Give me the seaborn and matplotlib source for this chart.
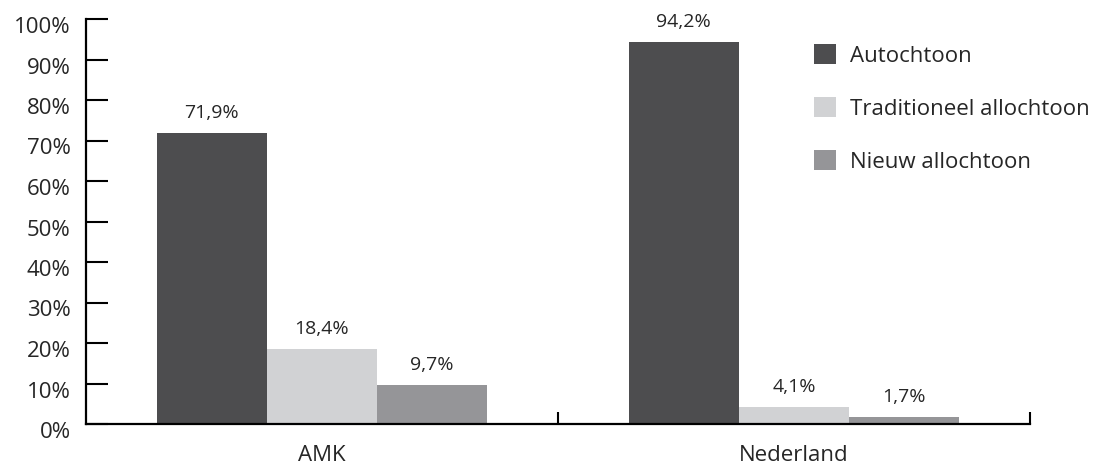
import matplotlib
matplotlib.use("Agg")
import matplotlib.pyplot as plt
import matplotlib.transforms as mtransforms
import pandas as pd
import seaborn as sns

groups = ["AMK", "Nederland"]
series = ["Autochtoon", "Traditioneel allochtoon", "Nieuw allochtoon"]
amk = [71.9, 18.4, 9.7]
nederland = [94.2, 4.1, 1.7]
colors = ["#4d4d4f", "#d1d2d4", "#959598"]
yticks = [0, 10, 20, 30, 40, 50, 60, 70, 80, 90, 100]

df = pd.DataFrame({
    "groep": [g for g in groups for _ in series],
    "herkomst": series * len(groups),
    "pct": amk + nederland,
})

sns.set_theme(style="white")
plt.rcParams["font.family"] = ["Open Sans", "DejaVu Sans"]

fig = plt.figure(figsize=(11.12, 4.68), dpi=100)
ax = fig.add_axes([86 / 1112, 44 / 468, (1030 - 86) / 1112, (424 - 19) / 468])

sns.barplot(data=df, x="groep", y="pct", hue="herkomst", hue_order=series,
            palette=colors, width=0.7, saturation=1, linewidth=0, ax=ax, legend=True)

# waardelabels met komma als decimaalteken
for cont in ax.containers:
    labels = [f"{v:.1f}%".replace(".", ",") for v in cont.datavalues]
    ax.bar_label(cont, labels=labels, padding=8, fontsize=14)

ax.set_xlim(-0.5, 1.5)
ax.set_ylim(0, 100)
ax.set_yticks(yticks)
ax.set_yticklabels([f"{t}%" for t in yticks], fontsize=16)
ax.set_xlabel("")
ax.set_ylabel("")
ax.tick_params(axis="x", labelsize=16, length=0, pad=15)
ax.set_xticks([0.5, 1.5], minor=True)
ax.tick_params(axis="x", which="minor", direction="in", length=9, width=1.5,
               color="black", bottom=True)
ax.tick_params(axis="y", direction="in", length=16, width=1.5, color="black",
               left=True, pad=11)
offset = mtransforms.ScaledTranslation(0, -6 / 100, fig.dpi_scale_trans)
for lab in ax.get_yticklabels():
    lab.set_transform(lab.get_transform() + offset)

sns.despine(ax=ax)
for side in ["left", "bottom"]:
    ax.spines[side].set_color("black")
    ax.spines[side].set_linewidth(1.6)

ax.legend(loc="upper left", bbox_to_anchor=(794 / 1112, 444 / 468),
          bbox_transform=fig.transFigure, frameon=False, fontsize=16,
          handlelength=1.0, handleheight=1.0, labelspacing=1.37, handletextpad=0.6)

fig.savefig("out.png", dpi=100)
